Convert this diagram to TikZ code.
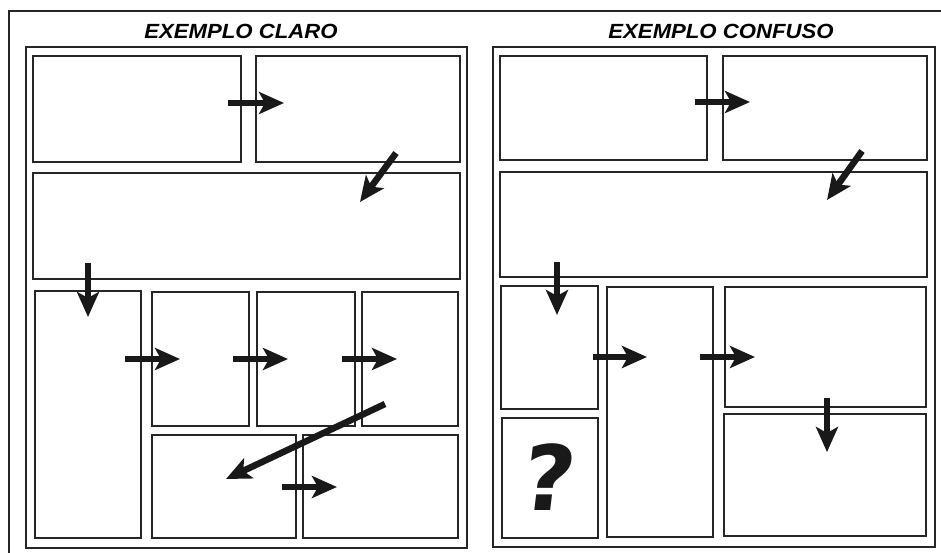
\documentclass[tikz,border=0pt]{standalone}
\usepackage{fontspec}
\setmainfont{Liberation Sans}
\newfontfamily\qfont{DejaVu Sans}
\usetikzlibrary{arrows.meta}
\begin{document}
\begin{tikzpicture}[x=1pt,y=-1pt,
  frame/.style={line width=2pt,black!85},
  outerbox/.style={line width=2.8pt,black!85},
  panel/.style={line width=2.8pt,black!85},
  flow/.style={line width=6.5pt,black!90,-{Stealth[length=25pt,width=22pt,inset=6pt]}},
  title/.style={font=\fontsize{20.5}{20.5}\selectfont\bfseries\itshape,inner sep=0pt,xscale=1.08}]
\useasboundingbox (0,0) rectangle (941,553);
% outer frame (top and left only)
\draw[frame] (941,11) -- (9,11) -- (9,553);
% titles
\node[title] (t1) at (241,31) {EXEMPLO CLARO};
\node[title] (t2) at (721,31) {EXEMPLO CONFUSO};
% ---------- left example ----------
\draw[outerbox] (26,47) rectangle (467,548);
\draw[panel] (33,56) rectangle (241,162);
\draw[panel] (256,56) rectangle (460,162);
\draw[panel] (33,173) rectangle (460,279);
\draw[panel] (35,291) rectangle (141,538);
\draw[panel] (152,292) rectangle (249,426);
\draw[panel] (257,292) rectangle (355,426);
\draw[panel] (362,292) rectangle (458,426);
\draw[panel] (152,435) rectangle (296,538);
\draw[panel] (303,435) rectangle (458,538);
% arrows left
\coordinate (a1s) at (228,103); \coordinate (a1e) at (284,103);
\coordinate (a2s) at (396,153); \coordinate (a2e) at (360,202);
\coordinate (a3s) at (88,263);  \coordinate (a3e) at (88,317);
\coordinate (a4s) at (125,359); \coordinate (a4e) at (180,359);
\coordinate (a5s) at (233,359); \coordinate (a5e) at (288,359);
\coordinate (a6s) at (342,359); \coordinate (a6e) at (397,359);
\coordinate (a7s) at (385,404); \coordinate (a7e) at (226,479);
\coordinate (a8s) at (282,487); \coordinate (a8e) at (337,487);
\foreach \a in {1,...,8} \draw[flow] (a\a s) -- (a\a e);
% ---------- right example ----------
\draw[outerbox] (493,47) rectangle (935,547);
\draw[panel] (500,56) rectangle (707,160);
\draw[panel] (723,56) rectangle (927,160);
\draw[panel] (500,172) rectangle (927,277);
\draw[panel] (501,286) rectangle (598,409);
\draw[panel] (502,418) rectangle (598,538);
\draw[panel] (607,287) rectangle (713,537);
\draw[panel] (725,287) rectangle (926,407);
\draw[panel] (724,414) rectangle (926,536);
% arrows right
\coordinate (b1s) at (695,102); \coordinate (b1e) at (750,102);
\coordinate (b2s) at (862,151); \coordinate (b2e) at (827,200);
\coordinate (b3s) at (557,262); \coordinate (b3e) at (557,315);
\coordinate (b4s) at (593,357); \coordinate (b4e) at (647,357);
\coordinate (b5s) at (700,357); \coordinate (b5e) at (755,357);
\coordinate (b6s) at (827,398); \coordinate (b6e) at (827,452);
\foreach \b in {1,...,6} \draw[flow] (b\b s) -- (b\b e);
% question mark
\node[font=\qfont\fontsize{90}{90}\selectfont\bfseries,inner sep=0pt,text=black!90,xslant=0.12] (q) at (550,477) {?};
\end{tikzpicture}
\end{document}
